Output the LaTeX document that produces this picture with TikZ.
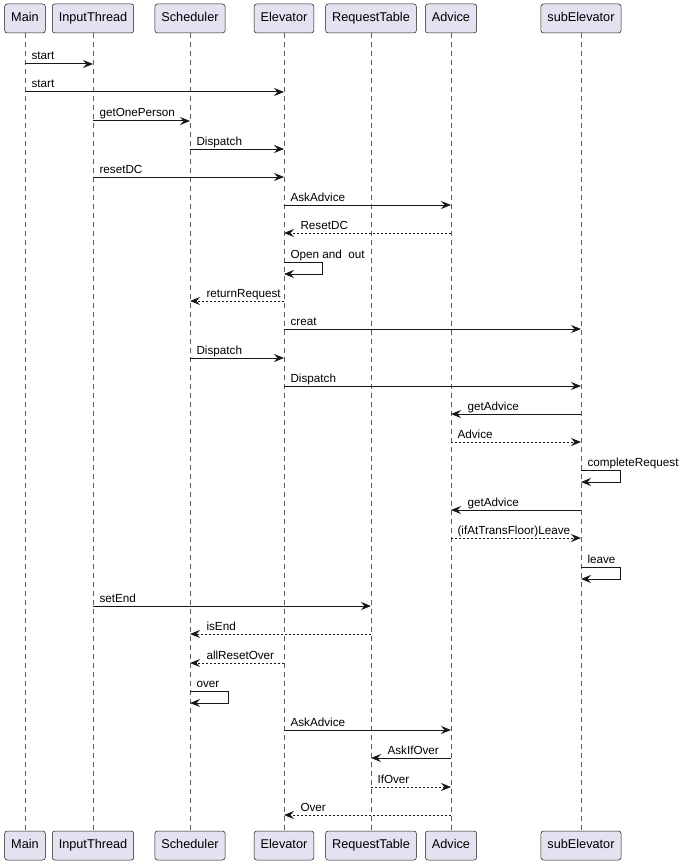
\documentclass[tikz,border=0pt]{standalone}
\usepackage{fontspec}
\setmainfont{Liberation Sans}
\usetikzlibrary{arrows.meta}
\definecolor{PUfill}{HTML}{E2E2F0}
\definecolor{PUline}{HTML}{181818}

\tikzset{
  part/.style={draw=PUline, line width=0.5pt, fill=PUfill, rounded corners=2.5pt,
    minimum height=29pt, inner xsep=6.5pt, inner ysep=0pt, text height=9.2pt, text depth=2.6pt,
    font=\fontsize{12.7}{14}\selectfont},
  life/.style={draw=PUline!70, line width=0.5pt, dash pattern=on 5pt off 4pt},
  msg/.style={draw=PUline, line width=1pt, -{Stealth[length=10pt,width=8pt,inset=3.5pt]}},
  ret/.style={msg, dash pattern=on 2pt off 2pt},
  lblR/.style={pos=0, anchor=base west, inner sep=0pt, xshift=6pt, yshift=4pt,
    font=\fontsize{11.7}{13}\selectfont, text=black},
  lblL/.style={pos=1, anchor=base west, inner sep=0pt, xshift=16pt, yshift=4pt,
    font=\fontsize{11.7}{13}\selectfont, text=black}
}

\begin{document}
\begin{tikzpicture}[x=1pt,y=-1pt]
    \useasboundingbox (0,0) rectangle (684,864);

    % participants, top and bottom
    \node[part] (main) at (25,18.5) {Main};
    \node[part] (input) at (93,18.5) {InputThread};
    \node[part] (sched) at (190,18.5) {Scheduler};
    \node[part] (elev) at (284,18.5) {Elevator};
    \node[part] (table) at (371,18.5) {RequestTable};
    \node[part] (advice) at (451,18.5) {Advice};
    \node[part] (sub) at (581,18.5) {subElevator};

    \node[part] (mainB) at (25,845.5) {Main};
    \node[part] (inputB) at (93,845.5) {InputThread};
    \node[part] (schedB) at (190,845.5) {Scheduler};
    \node[part] (elevB) at (284,845.5) {Elevator};
    \node[part] (tableB) at (371,845.5) {RequestTable};
    \node[part] (adviceB) at (451,845.5) {Advice};
    \node[part] (subB) at (581,845.5) {subElevator};

    % lifelines
    \draw[life] (main) -- (mainB);
    \draw[life] (input) -- (inputB);
    \draw[life] (sched) -- (schedB);
    \draw[life] (elev) -- (elevB);
    \draw[life] (table) -- (tableB);
    \draw[life] (advice) -- (adviceB);
    \draw[life] (sub) -- (subB);

    % messages
    \draw[msg] (main |- 0,64) -- node[lblR] {start} (input |- 0,64);
    \draw[msg] (main |- 0,92) -- node[lblR] {start} (elev |- 0,92);
    \draw[msg] (input |- 0,121) -- node[lblR] {getOnePerson} (sched |- 0,121);
    \draw[msg] (sched |- 0,149) -- node[lblR] {Dispatch} (elev |- 0,149);
    \draw[msg] (input |- 0,177) -- node[lblR] {resetDC} (elev |- 0,177);
    \draw[msg] (elev |- 0,205) -- node[lblR] {AskAdvice} (advice |- 0,205);
    \draw[ret] (advice |- 0,233) -- node[lblL] {ResetDC} (elev |- 0,233);
    \draw[msg] (elev |- 0,262) -- node[lblR] {Open and\ \ out} ++(38,0) -- ++(0,12) -- ++(-38,0);
    \draw[ret] (elev |- 0,301) -- node[lblL] {returnRequest} (sched |- 0,301);
    \draw[msg] (elev |- 0,329) -- node[lblR] {creat} (sub |- 0,329);
    \draw[msg] (sched |- 0,358) -- node[lblR] {Dispatch} (elev |- 0,358);
    \draw[msg] (elev |- 0,386) -- node[lblR] {Dispatch} (sub |- 0,386);
    \draw[msg] (sub |- 0,414) -- node[lblL] {getAdvice} (advice |- 0,414);
    \draw[ret] (advice |- 0,442) -- node[lblR] {Advice} (sub |- 0,442);
    \draw[msg] (sub |- 0,470) -- node[lblR] {completeRequest} ++(39,0) -- ++(0,12) -- ++(-39,0);
    \draw[msg] (sub |- 0,510) -- node[lblL] {getAdvice} (advice |- 0,510);
    \draw[ret] (advice |- 0,538) -- node[lblR] {(ifAtTransFloor)Leave} (sub |- 0,538);
    \draw[msg] (sub |- 0,567) -- node[lblR] {leave} ++(39,0) -- ++(0,12) -- ++(-39,0);
    \draw[msg] (input |- 0,606) -- node[lblR] {setEnd} (table |- 0,606);
    \draw[ret] (table |- 0,634) -- node[lblL] {isEnd} (sched |- 0,634);
    \draw[ret] (elev |- 0,663) -- node[lblL] {allResetOver} (sched |- 0,663);
    \draw[msg] (sched |- 0,691) -- node[lblR] {over} ++(38,0) -- ++(0,12) -- ++(-38,0);
    \draw[msg] (elev |- 0,730) -- node[lblR] {AskAdvice} (advice |- 0,730);
    \draw[msg] (advice |- 0,758) -- node[lblL] {AskIfOver} (table |- 0,758);
    \draw[ret] (table |- 0,787) -- node[lblR] {IfOver} (advice |- 0,787);
    \draw[ret] (advice |- 0,815) -- node[lblL] {Over} (elev |- 0,815);
\end{tikzpicture}
\end{document}
